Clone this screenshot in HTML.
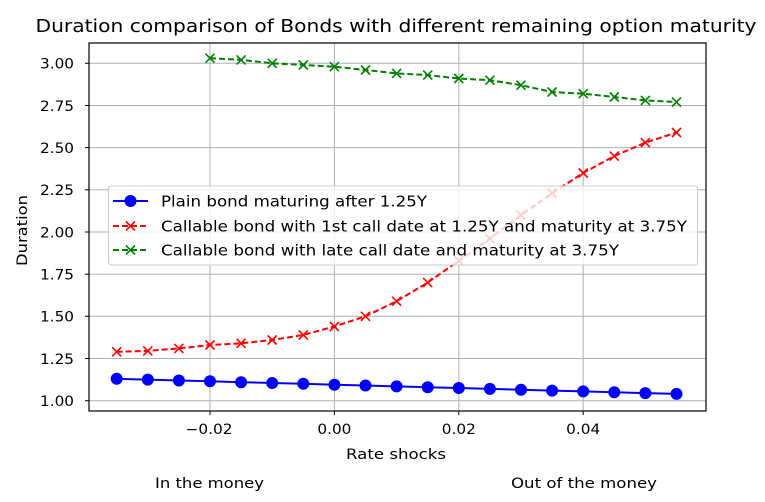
<!DOCTYPE html>
<html><head><meta charset="utf-8"><style>
html,body{margin:0;padding:0;background:#fff;}
svg{display:block;font-family:"DejaVu Sans","Liberation Sans",sans-serif;}
</style></head><body>
<svg width="765" height="502" viewBox="0 0 765 502" xmlns="http://www.w3.org/2000/svg">
<defs>
<marker id="mb" markerWidth="14" markerHeight="14" refX="7" refY="7" markerUnits="userSpaceOnUse"><circle cx="7" cy="7" r="6" fill="#0000ff"/></marker>
<marker id="mr" markerWidth="14" markerHeight="14" refX="7" refY="7" markerUnits="userSpaceOnUse"><path d="M2.5,2.5 L11.5,11.5 M2.5,11.5 L11.5,2.5" stroke="#ff0000" stroke-width="1.6"/></marker>
<marker id="mg" markerWidth="14" markerHeight="14" refX="7" refY="7" markerUnits="userSpaceOnUse"><path d="M2.5,2.5 L11.5,11.5 M2.5,11.5 L11.5,2.5" stroke="#008000" stroke-width="1.6"/></marker>
</defs>
<text x="396" y="32" font-size="17.5" text-anchor="middle" textLength="721" lengthAdjust="spacingAndGlyphs" fill="#000">Duration comparison of Bonds with different remaining option maturity</text>
<g stroke="#b0b0b0" stroke-width="1">
<line x1="89" x2="706" y1="400.7" y2="400.7"/><line x1="89" x2="706" y1="358.5" y2="358.5"/>
<line x1="89" x2="706" y1="316.3" y2="316.3"/><line x1="89" x2="706" y1="274.2" y2="274.2"/>
<line x1="89" x2="706" y1="232" y2="232"/><line x1="89" x2="706" y1="189.8" y2="189.8"/>
<line x1="89" x2="706" y1="147.6" y2="147.6"/><line x1="89" x2="706" y1="105.5" y2="105.5"/>
<line x1="89" x2="706" y1="63.3" y2="63.3"/>
<line y1="43" y2="411" x1="210" x2="210"/><line y1="43" y2="411" x1="334.4" x2="334.4"/>
<line y1="43" y2="411" x1="458.8" x2="458.8"/><line y1="43" y2="411" x1="583.2" x2="583.2"/>
</g>
<polyline fill="none" stroke="#0000ff" stroke-width="2" marker-start="url(#mb)" marker-mid="url(#mb)" marker-end="url(#mb)" points="116.7,378.8 147.8,379.6 178.9,380.5 210,381.3 241.1,382.2 272.2,383 303.3,383.8 334.4,384.7 365.5,385.5 396.6,386.4 427.7,387.2 458.8,388 489.9,388.9 521,389.7 552.1,390.6 583.2,391.4 614.3,392.3 645.4,393.1 676.5,393.9"/>
<polyline fill="none" stroke="#ff0000" stroke-width="2" stroke-dasharray="6,3" marker-start="url(#mr)" marker-mid="url(#mr)" marker-end="url(#mr)" points="116.7,351.8 147.8,350.9 178.9,348.4 210,345 241.1,343.3 272.2,340 303.3,334.9 334.4,326.5 365.5,316.3 396.6,301.2 427.7,282.6 458.8,260.7 489.9,238.7 521,215.1 552.1,193.2 583.2,173 614.3,156.1 645.4,142.6 676.5,132.5"/>
<polyline fill="none" stroke="#008000" stroke-width="2" stroke-dasharray="6,3" marker-start="url(#mg)" marker-mid="url(#mg)" marker-end="url(#mg)" points="210,58.2 241.1,59.9 272.2,63.3 303.3,65 334.4,66.7 365.5,70 396.6,73.4 427.7,75.1 458.8,78.5 489.9,80.2 521,85.2 552.1,92 583.2,93.7 614.3,97 645.4,100.4 676.5,102.1"/>
<rect x="89" y="43" width="617" height="368" fill="none" stroke="#000" stroke-width="1.2"/>
<g stroke="#000" stroke-width="1">
<line x1="85" x2="89" y1="400.7" y2="400.7"/><line x1="85" x2="89" y1="358.5" y2="358.5"/>
<line x1="85" x2="89" y1="316.3" y2="316.3"/><line x1="85" x2="89" y1="274.2" y2="274.2"/>
<line x1="85" x2="89" y1="232" y2="232"/><line x1="85" x2="89" y1="189.8" y2="189.8"/>
<line x1="85" x2="89" y1="147.6" y2="147.6"/><line x1="85" x2="89" y1="105.5" y2="105.5"/>
<line x1="85" x2="89" y1="63.3" y2="63.3"/>
<line y1="411" y2="415" x1="210" x2="210"/><line y1="411" y2="415" x1="334.4" x2="334.4"/>
<line y1="411" y2="415" x1="458.8" x2="458.8"/><line y1="411" y2="415" x1="583.2" x2="583.2"/>
</g>
<g font-size="14" fill="#000" text-anchor="end">
<text x="74" y="406" textLength="34" lengthAdjust="spacingAndGlyphs">1.00</text>
<text x="74" y="363.8" textLength="34" lengthAdjust="spacingAndGlyphs">1.25</text>
<text x="74" y="321.6" textLength="34" lengthAdjust="spacingAndGlyphs">1.50</text>
<text x="74" y="279.5" textLength="34" lengthAdjust="spacingAndGlyphs">1.75</text>
<text x="74" y="237.3" textLength="34" lengthAdjust="spacingAndGlyphs">2.00</text>
<text x="74" y="195.1" textLength="34" lengthAdjust="spacingAndGlyphs">2.25</text>
<text x="74" y="152.9" textLength="34" lengthAdjust="spacingAndGlyphs">2.50</text>
<text x="74" y="110.8" textLength="34" lengthAdjust="spacingAndGlyphs">2.75</text>
<text x="74" y="68.6" textLength="34" lengthAdjust="spacingAndGlyphs">3.00</text>
</g>
<g font-size="14" fill="#000" text-anchor="middle">
<text x="209" y="434" textLength="47" lengthAdjust="spacingAndGlyphs">−0.02</text>
<text x="334.4" y="434" textLength="34" lengthAdjust="spacingAndGlyphs">0.00</text>
<text x="458.8" y="434" textLength="34" lengthAdjust="spacingAndGlyphs">0.02</text>
<text x="583.2" y="434" textLength="34" lengthAdjust="spacingAndGlyphs">0.04</text>
<text x="396" y="459" textLength="100" lengthAdjust="spacingAndGlyphs">Rate shocks</text>
<text x="209.5" y="488" textLength="109" lengthAdjust="spacingAndGlyphs">In the money</text>
<text x="584" y="488" textLength="146" lengthAdjust="spacingAndGlyphs">Out of the money</text>
<text transform="translate(27,230.5) rotate(-90)" textLength="71" lengthAdjust="spacingAndGlyphs">Duration</text>
</g>
<rect x="108.5" y="186" width="589" height="79" rx="3" fill="#fff" fill-opacity="0.8" stroke="#cccccc" stroke-width="1"/>
<line x1="113" x2="148" y1="201" y2="201" stroke="#0000ff" stroke-width="2"/>
<circle cx="130.5" cy="201" r="6" fill="#0000ff"/>
<line x1="113" x2="148" y1="226" y2="226" stroke="#ff0000" stroke-width="2" stroke-dasharray="6,3"/>
<path d="M126,221.5 L135,230.5 M126,230.5 L135,221.5" stroke="#ff0000" stroke-width="1.6"/>
<line x1="113" x2="148" y1="250" y2="250" stroke="#008000" stroke-width="2" stroke-dasharray="6,3"/>
<path d="M126,245.5 L135,254.5 M126,254.5 L135,245.5" stroke="#008000" stroke-width="1.6"/>
<g font-size="15" fill="#000">
<text x="161" y="206.5" textLength="266" lengthAdjust="spacingAndGlyphs">Plain bond maturing after 1.25Y</text>
<text x="161" y="231.5" textLength="526" lengthAdjust="spacingAndGlyphs">Callable bond with 1st call date at 1.25Y and maturity at 3.75Y</text>
<text x="161" y="255.5" textLength="458" lengthAdjust="spacingAndGlyphs">Callable bond with late call date and maturity at 3.75Y</text>
</g>
</svg>
</body></html>
